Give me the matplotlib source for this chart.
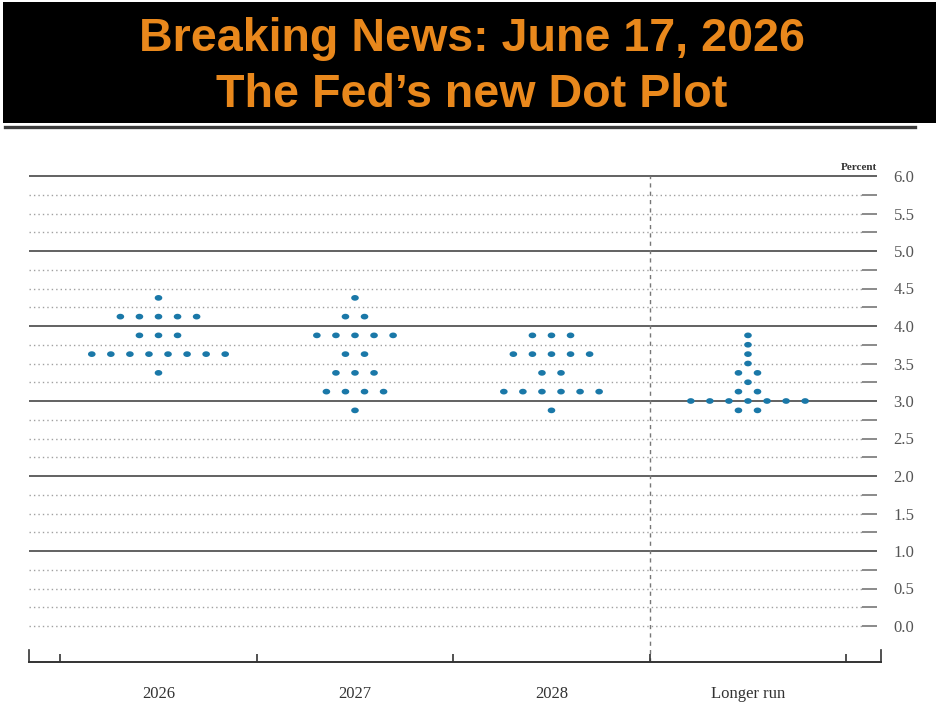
#!/usr/bin/env python3
"""
Fed dot plot (June 2026 SEP) with a 'Breaking News' banner.
"""

import numpy as np
import matplotlib
matplotlib.use('Agg')
import matplotlib.pyplot as plt
from matplotlib.patches import Rectangle
from matplotlib.lines import Line2D
from matplotlib.path import Path
import matplotlib.transforms as mtransforms


# =============================================================================
# DATA
# =============================================================================
categories = ['2026', '2027', '2028', 'Longer run']

rates_2026 = [4.375, 4.125, 3.875, 3.625, 3.375]
counts_2026 = [1, 5, 3, 8, 1]

rates_2027 = [4.375, 4.125, 3.875, 3.625, 3.375, 3.125, 2.875]
counts_2027 = [1, 2, 5, 2, 3, 4, 1]

rates_2028 = [3.875, 3.625, 3.375, 3.125, 2.875]
counts_2028 = [3, 5, 2, 6, 1]

rates_lr = [3.875, 3.75, 3.625, 3.5, 3.375, 3.25, 3.125, 3.0, 2.875]
counts_lr = [1, 1, 1, 1, 2, 1, 2, 7, 2]

ytick_values = np.arange(0, 6.01, 0.5)
grid_values = np.arange(0, 6.01, 0.25)

title_lines = ['Breaking News: June 17, 2026', 'The Fed\u2019s new Dot Plot']

# =============================================================================
# STYLE
# =============================================================================
DOT_COLOR = '#1a78a8'
ORANGE = '#e9881c'
DOT_STEP = 0.097          # horizontal gap between dots, in category units
SERIF = ['Liberation Serif', 'DejaVu Serif']

# slightly flattened dot, as in the scanned original
_t = np.linspace(0, 2 * np.pi, 40)
ELLIPSE = Path(np.column_stack([np.cos(_t), 0.75 * np.sin(_t)]))


def dot_positions(center, rates, counts):
    """Spread each row of dots symmetrically around the category centre."""
    xs, ys = [], []
    for r, n in zip(rates, counts):
        offs = (np.arange(n) - (n - 1) / 2) * DOT_STEP
        xs.extend(center + offs)
        ys.extend([r] * n)
    return xs, ys


def draw_banner(fig):
    """Black header box with orange two-line title."""
    W, H = 937, 705
    fig.patches.append(Rectangle((3 / W, 1 - 123 / H), 1 - 3 / W, 121 / H,
                                 transform=fig.transFigure, facecolor='black',
                                 edgecolor='none', zorder=0))
    fig.lines.append(Line2D([5 / W, 915 / W], [1 - 127 / H] * 2,
                            transform=fig.transFigure, color='#3c3c3c', lw=2.4))
    for line, base in zip(title_lines, [51, 107]):
        fig.text(472 / W, 1 - base / H, line, ha='center', va='baseline',
                 color=ORANGE, fontsize=33.6, fontweight='bold',
                 family=['Liberation Sans', 'DejaVu Sans'])


def draw_chart(fig):
    W, H = 937, 705
    ax = fig.add_axes([29 / W, 1 - 662 / H, (881 - 29) / W, (662 - 176) / H])
    x_lo, x_hi = -0.659, 3.677
    y_lo, y_hi = -0.48, 6.0
    ax.set_xlim(x_lo, x_hi)
    ax.set_ylim(y_lo, y_hi)

    # horizontal grid: dotted, solid on whole percents (except zero)
    x_dot_end, x_solid_end = 3.582, 3.659
    for g in grid_values:
        major = abs(g - round(g)) < 1e-9 and g > 0
        if major:
            ax.hlines(g, x_lo, x_solid_end, color='#555555', lw=1.3, clip_on=False, zorder=1)
        else:
            ax.hlines(g, x_lo, x_dot_end, color='#a0a0a0', lw=1.0,
                      linestyles=(0, (1, 2.2)), clip_on=False, zorder=1)
            ax.hlines(g, x_dot_end, x_solid_end, color='#777777', lw=1.2, clip_on=False, zorder=1)

    # dashed separator before 'Longer run'
    ax.vlines(2.5, y_lo, y_hi, color='#777777', lw=1.0, linestyles=(0, (3, 3)), zorder=1)

    # dots
    groups = [(rates_2026, counts_2026), (rates_2027, counts_2027),
              (rates_2028, counts_2028), (rates_lr, counts_lr)]
    for i, (rates, counts) in enumerate(groups):
        xs, ys = dot_positions(i, rates, counts)
        ax.scatter(xs, ys, s=30, marker=ELLIPSE, color=DOT_COLOR,
                   edgecolors='none', zorder=3)

    # frame: only the bottom line with ticks
    for side in ['top', 'left', 'right']:
        ax.spines[side].set_visible(False)
    ax.spines['bottom'].set_color('#333333')
    ax.spines['bottom'].set_linewidth(1.4)

    ax.set_xticks(np.arange(-0.5, 3.6, 1.0))
    ax.set_xticklabels([])
    ax.tick_params(axis='x', which='major', direction='in', length=6,
                   width=1.2, color='#333333')
    ax.set_xticks(range(len(categories)), minor=True)
    ax.set_xticklabels(categories, minor=True, fontsize=12, color='#333333',
                       family=SERIF)
    ax.tick_params(axis='x', which='minor', length=0, pad=17)

    # taller end ticks
    ends_trans = mtransforms.blended_transform_factory(ax.transAxes, ax.transData)
    for xe in [0, 1]:
        ax.add_line(Line2D([xe, xe], [y_lo, y_lo + 12 / 75], transform=ends_trans,
                           color='#333333', lw=1.2, clip_on=False))

    # right-hand percent labels
    ax.yaxis.tick_right()
    ax.set_yticks(ytick_values)
    ax.set_yticklabels([f'{v:.1f}' for v in ytick_values], fontsize=12,
                       color='#555555', family=SERIF)
    ax.tick_params(axis='y', length=0, pad=9)

    ax.text(x_solid_end, 6.05, 'Percent', ha='right', va='bottom', fontsize=8,
            fontweight='bold', color='#333333', family=SERIF)
    return ax


# =============================================================================
# MAIN
# =============================================================================
def main():
    fig = plt.figure(figsize=(9.37, 7.05), dpi=100)
    fig.patch.set_facecolor('white')
    draw_banner(fig)
    draw_chart(fig)
    fig.savefig('out.png', dpi=100)
    plt.close(fig)


if __name__ == '__main__':
    main()
